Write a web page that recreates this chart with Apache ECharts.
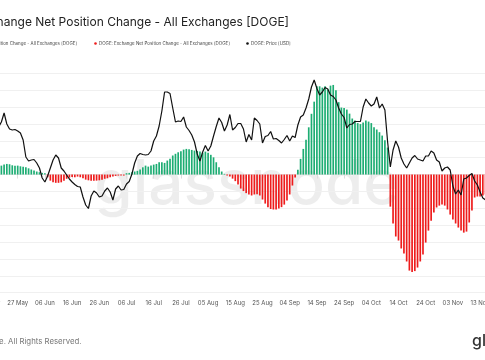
<!DOCTYPE html>
<html><head><meta charset="utf-8">
<script src="https://cdn.jsdelivr.net/npm/echarts@6/dist/echarts.min.js"></script>
<style>html,body{margin:0;padding:0;background:#fff;overflow:hidden}#c{width:485px;height:360px}</style>
</head><body><div id="c"></div><script>
// Daily categories: 17 May .. 15 Nov
const startDay = Date.UTC(2023, 4, 17);
const dayCount = 183;
const monthNames = ['Jan','Feb','Mar','Apr','May','Jun','Jul','Aug','Sep','Oct','Nov','Dec'];
const categories = [];
for (let i = 0; i < dayCount; i++) {
  const d = new Date(startDay + i * 86400000);
  categories.push(String(d.getUTCDate()).padStart(2, '0') + ' ' + monthNames[d.getUTCMonth()]);
}

// Exchange net position change (M DOGE), 17 May .. 15 Nov
const netChange = [null, null, null,
  50,53,59,63,61,55,52,53,49,47,43,37,30,24,18,14,10,8,
  -16,-36,-46,-49,-49,-46,-36,-25,-18,-14,-16,-12,-16,-22,-30,-34,-36,-36,-36,-34,-31,-25,-22,-16,-12,-8,-6,-6,-6,
  8,10,14,18,22,30,43,53,47,53,59,63,73,73,69,83,93,113,123,132,138,148,152,150,146,142,140,136,129,136,129,117,102,73,43,18,4,
  -6,-12,-24,-39,-59,-83,-98,-110,-118,-124,-118,-116,-124,-148,-172,-193,-204,-207,-207,-201,-193,-178,-154,-118,-65,-18,
  28,93,152,207,280,360,432,523,523,515,523,504,527,531,500,429,397,394,385,361,332,320,305,299,308,320,314,305,280,267,251,231,204,160,
  -190,-290,-367,-391,-438,-468,-515,-569,-578,-572,-551,-515,-474,-403,-332,-273,-225,-195,-184,-178,-184,-207,-237,-267,-290,-314,-332,-344,-338,-284,-213,-136,-130,-130,-124,-118
];

// DOGE price (USD)
const price = [null, null, null,
  0.0646,0.0656,0.0674,0.0652,0.0642,0.0640,0.0641,0.0638,0.0634,0.0620,0.0586,0.0578,0.0580,0.0581,0.0574,0.0564,0.0544,0.0536,
  0.0548,0.0564,0.0580,0.0590,0.0584,0.0564,0.0558,0.0550,0.0542,0.0536,0.0531,0.0527,0.0526,0.0506,0.0490,0.0483,0.0508,0.0518,0.0514,0.0506,0.0508,0.0518,0.0524,0.0516,0.0500,0.0522,0.0528,0.0520,0.0521,
  0.0532,0.0537,0.0552,0.0574,0.0588,0.0593,0.0591,0.0590,0.0591,0.0598,0.0618,0.0628,0.0648,0.0678,0.0716,0.0716,0.0713,0.0684,0.0656,0.0658,0.0657,0.0666,0.0646,0.0639,0.0630,0.0616,0.0592,0.0578,0.0596,0.0609,0.0598,0.0608,0.0628,0.0647,0.0664,0.0655,0.0638,
  0.0650,0.0671,0.0640,0.0645,0.0653,0.0653,0.0642,0.0616,0.0631,0.0620,0.0664,0.0659,0.0652,0.0614,0.0627,0.0629,0.0637,0.0622,0.0623,0.0619,0.0614,0.0621,0.0629,0.0618,0.0628,0.0625,
  0.0650,0.0666,0.0670,0.0684,0.0702,0.0726,0.0740,0.0723,0.0710,0.0716,0.0725,0.0722,0.0710,0.0707,0.0700,0.0684,0.0672,0.0665,0.0644,0.0651,0.0652,0.0657,0.0657,0.0657,0.0686,0.0702,0.0694,0.0688,0.0692,0.0706,0.0684,0.0692,0.0680,0.0616,
  0.0566,0.0600,0.0618,0.0606,0.0584,0.0572,0.0564,0.0574,0.0584,0.0589,0.0582,0.0580,0.0578,0.0588,0.0588,0.0598,0.0594,0.0580,0.0576,0.0558,0.0564,0.0566,0.0560,0.0528,0.0512,0.0520,0.0510,0.0542,0.0544,0.0549,0.0553,0.0538,0.0530,0.0516,0.0504,0.0500
];

const seriesNames = [
  'DOGE: Exchange Net Position Change - All Exchanges [DOGE]',
  'DOGE: Exchange Net Position Change - All Exchanges [DOGE]',
  'DOGE: Price [USD]'
];
const titleText = 'Exchange Net Position Change - All Exchanges [DOGE]';
const footerText = '© 2023 Glassnode. All Rights Reserved.';

const GREEN = '#1dad73', RED = '#ee1c1c';
const positive = netChange.map(v => (v !== null && v >= 0) ? v : null);
const negative = netChange.map(v => (v !== null && v < 0) ? v : null);

const chart = echarts.init(document.getElementById('c'), null, {renderer: 'canvas'});
const FONT = 'Inter, Roboto, sans-serif';
chart.setOption({
  animation: false,
  backgroundColor: '#fff',
  grid: {left: -10.86, right: -1.9, top: 73.3, bottom: 67.3, containLabel: false, outerBoundsMode: 'none'},
  xAxis: {
    type: 'category', data: categories, boundaryGap: true,
    axisLine: {show: true, lineStyle: {color: '#e6e6e6', width: 1}},
    axisTick: {show: true, alignWithLabel: true, interval: 9, length: 4, lineStyle: {color: '#dddddd'}},
    axisLabel: {interval: 9, fontSize: 6, color: '#555', margin: 8, fontFamily: FONT, hideOverlap: false},
    splitLine: {show: false}
  },
  yAxis: [
    {type: 'value', min: -700, max: 600, interval: 100, axisLabel: {show: false},
     axisLine: {show: false}, axisTick: {show: false},
     splitLine: {show: true, lineStyle: {color: '#f0f0f0', width: 1}}},
    {type: 'value', min: 0.03146, max: 0.07534, show: false, splitLine: {show: false}}
  ],
  graphic: [
    {type: 'text', z: 0, style: {text: 'glassnode', x: 247, y: 185, align: 'center', verticalAlign: 'middle', textAlign: 'center', textVerticalAlign: 'middle',
      font: '500 62px Inter, sans-serif', fill: 'rgba(0,0,0,0.07)'}},
    {type: 'text', z: 10, style: {text: titleText, x: 289, y: 22, align: 'right', verticalAlign: 'middle', textAlign: 'right', textVerticalAlign: 'middle',
      font: '400 12px Inter, sans-serif', fill: '#222'}},
    {type: 'circle', z: 10, shape: {cx: -56, cy: 43.5, r: 1.3}, style: {fill: GREEN}},
    {type: 'text', z: 10, style: {text: seriesNames[0], x: 77, y: 43.5, align: 'right', verticalAlign: 'middle', textAlign: 'right', textVerticalAlign: 'middle',
      font: '4.45px Inter, sans-serif', fill: '#444'}},
    {type: 'circle', z: 10, shape: {cx: 95.5, cy: 43.5, r: 1.3}, style: {fill: RED}},
    {type: 'text', z: 10, style: {text: seriesNames[1], x: 99, y: 43.5, align: 'left', verticalAlign: 'middle', textAlign: 'left', textVerticalAlign: 'middle',
      font: '4.45px Inter, sans-serif', fill: '#444'}},
    {type: 'circle', z: 10, shape: {cx: 247.5, cy: 43.5, r: 1.3}, style: {fill: '#111'}},
    {type: 'text', z: 10, style: {text: seriesNames[2], x: 251, y: 43.5, align: 'left', verticalAlign: 'middle', textAlign: 'left', textVerticalAlign: 'middle',
      font: '4.45px Inter, sans-serif', fill: '#444'}},
    {type: 'text', z: 10, style: {text: footerText, x: 81.5, y: 341.5, align: 'right', verticalAlign: 'middle', textAlign: 'right', textVerticalAlign: 'middle',
      font: '7.8px Inter, sans-serif', fill: '#777'}},
    {type: 'text', z: 10, style: {text: 'glassnode', x: 472, y: 341, align: 'left', verticalAlign: 'middle', textAlign: 'left', textVerticalAlign: 'middle',
      font: '500 16px Inter, sans-serif', fill: '#333'}}
  ],
  series: [
    {name: 'pos', type: 'bar', data: positive, barWidth: '62%', barGap: '-100%', itemStyle: {color: GREEN}, z: 2},
    {name: 'neg', type: 'bar', data: negative, barWidth: '62%', barGap: '-100%', itemStyle: {color: RED}, z: 2},
    {name: 'price', type: 'line', yAxisIndex: 1, data: price, symbol: 'none', showSymbol: false, connectNulls: false,
     lineStyle: {color: '#111', width: 1.2}, z: 5}
  ]
});
</script></body></html>
